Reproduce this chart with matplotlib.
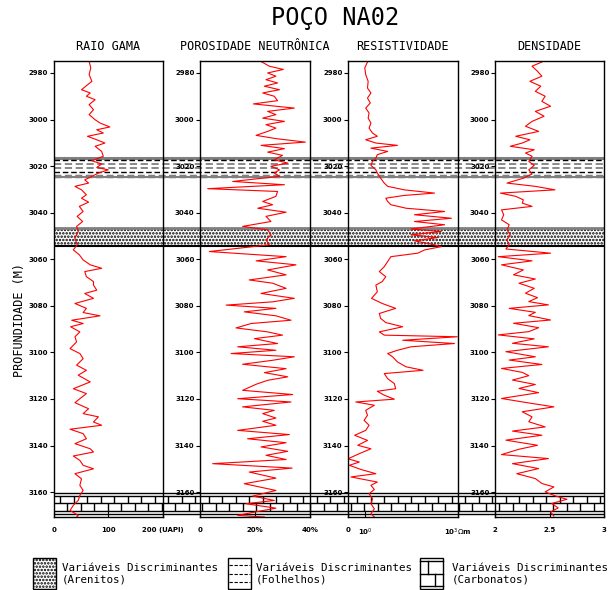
import numpy as np
import matplotlib
matplotlib.use("Agg")
import matplotlib.pyplot as plt
from matplotlib.patches import Rectangle
from matplotlib.ticker import NullLocator

# ---------------- data ----------------
gr_depth = [
    2975.0, 2977.8, 2980.7, 2983.6, 2987.2, 2988.6, 2990.0, 2991.5, 2993.6, 2995.8,
    2997.9, 3000.1, 3001.5, 3003.2, 3004.4, 3005.8, 3007.2, 3008.7, 3010.1, 3011.5,
    3013.7, 3015.8, 3017.7, 3019.1, 3020.6, 3021.6, 3023.0, 3024.4, 3025.9, 3027.3,
    3028.7, 3030.2, 3032.3, 3033.8, 3035.5, 3037.3, 3039.5, 3041.6, 3043.8, 3045.9,
    3048.1, 3051.0, 3053.8, 3056.0, 3058.1, 3060.3, 3062.4, 3063.9, 3065.3, 3067.5,
    3069.6, 3071.1, 3073.3, 3074.7, 3076.8, 3079.0, 3081.1, 3082.9, 3084.3, 3086.2,
    3087.6, 3089.0, 3091.2, 3093.3, 3095.5, 3098.4, 3100.5, 3102.7, 3105.5, 3107.7,
    3109.8, 3112.7, 3115.6, 3117.7, 3119.9, 3121.6, 3124.2, 3126.3, 3127.7, 3129.9,
    3131.3, 3133.0, 3134.9, 3137.1, 3139.2, 3141.4, 3142.8, 3144.5, 3146.4, 3148.5,
    3150.0, 3152.1, 3154.3, 3157.1, 3159.3, 3161.4, 3163.6, 3165.7, 3167.9, 3170.0,
    3170.7]
gr_api = [
    65, 68, 65, 70, 51, 67, 60, 76, 65, 73,
    65, 76, 85, 103, 79, 91, 62, 79, 94, 76,
    88, 91, 70, 88, 79, 100, 82, 70, 57, 64,
    39, 51, 60, 51, 64, 47, 54, 43, 53, 42,
    45, 39, 43, 36, 47, 54, 67, 88, 57, 60,
    73, 73, 79, 57, 73, 39, 60, 54, 85, 33,
    54, 31, 48, 39, 42, 30, 48, 54, 42, 60,
    45, 67, 36, 60, 48, 39, 64, 54, 82, 73,
    88, 30, 54, 60, 39, 67, 73, 36, 48, 54,
    73, 39, 51, 48, 54, 48, 45, 36, 30, 45,
    42]

por_depth = [
    2975.1, 2977.1, 2978.5, 2980.0, 2981.4, 2982.9, 2984.3, 2985.7, 2987.2, 2988.6,
    2990.0, 2991.9, 2993.3, 2995.1, 2996.5, 2997.9, 2999.4, 3000.8, 3002.2, 3003.7,
    3005.1, 3006.8, 3008.2, 3009.7, 3011.1, 3012.5, 3014.0, 3015.4, 3017.3, 3018.7,
    3020.1, 3021.6, 3023.0, 3024.4, 3026.6, 3028.0, 3029.7, 3030.9, 3033.0, 3035.2,
    3036.6, 3038.1, 3039.8, 3041.6, 3043.8, 3045.9, 3047.4, 3049.5, 3051.7, 3053.8,
    3056.7, 3058.9, 3060.7, 3062.4, 3064.6, 3066.7, 3068.9, 3070.3, 3072.5, 3074.7,
    3076.8, 3078.3, 3079.7, 3081.1, 3082.6, 3084.3, 3086.2, 3087.6, 3089.5, 3091.2,
    3092.6, 3094.1, 3096.2, 3097.6, 3099.1, 3100.5, 3101.9, 3103.4, 3105.1, 3107.0,
    3108.7, 3110.5, 3112.0, 3113.7, 3116.3, 3118.1, 3119.9, 3121.3, 3123.4, 3124.9,
    3126.3, 3128.2, 3129.6, 3131.3, 3133.5, 3135.3, 3137.1, 3138.8, 3140.6, 3142.5,
    3144.2, 3146.0, 3147.8, 3149.7, 3151.4, 3154.0, 3156.4, 3159.3, 3161.7, 3163.6,
    3165.0, 3166.9, 3168.6, 3170.0, 3170.7]
por_pct = [
    22.2, 25.2, 30.3, 24.6, 27.6, 24.0, 28.2, 23.4, 28.9, 22.8,
    27.0, 28.2, 19.4, 34.3, 24.6, 27.6, 22.8, 30.7, 24.0, 27.6,
    24.6, 20.4, 27.6, 38.3, 22.2, 30.7, 24.6, 30.0, 27.0, 31.9,
    25.8, 28.9, 27.0, 28.9, 11.9, 30.7, 2.8, 28.2, 27.6, 22.8,
    26.4, 21.0, 31.3, 24.0, 25.8, 15.5, 24.6, 25.8, 24.0, 25.2,
    3.4, 31.3, 20.4, 34.9, 24.6, 31.3, 17.9, 26.4, 31.3, 22.2,
    34.3, 26.4, 9.5, 27.6, 16.1, 27.6, 33.1, 18.6, 13.1, 24.6,
    30.0, 19.8, 28.2, 13.7, 27.6, 11.3, 34.3, 26.4, 15.5, 31.3,
    23.4, 31.9, 24.6, 20.4, 15.5, 33.7, 13.7, 33.1, 15.5, 27.0,
    22.8, 27.6, 22.8, 27.6, 13.7, 32.5, 17.3, 31.3, 22.2, 31.9,
    24.0, 31.3, 4.6, 33.5, 17.9, 27.6, 16.1, 27.6, 19.2, 27.0,
    16.7, 27.6, 19.8, 13.7, 23.4]

res_depth = [
    2975.3, 2977.8, 2980.7, 2983.6, 2986.5, 2988.6, 2990.8, 2992.9, 2995.1, 2997.2,
    2999.4, 3001.5, 3003.7, 3005.8, 3007.2, 3008.7, 3010.1, 3011.1, 3012.3, 3013.7,
    3015.1, 3016.6, 3018.0, 3019.7, 3021.6, 3023.0, 3025.2, 3027.3, 3028.7, 3030.2,
    3031.6, 3032.6, 3033.8, 3035.2, 3036.6, 3038.1, 3039.5, 3040.9, 3042.4, 3043.8,
    3045.2, 3047.0, 3048.1, 3049.5, 3050.7, 3052.1, 3053.5, 3054.6, 3056.0, 3057.4,
    3058.9, 3061.0, 3063.2, 3065.3, 3067.5, 3069.6, 3071.1, 3074.0, 3076.8, 3079.0,
    3081.1, 3083.3, 3085.4, 3087.2, 3089.0, 3091.2, 3092.6, 3093.3, 3094.8, 3096.2,
    3097.6, 3099.1, 3100.5, 3101.9, 3104.1, 3106.2, 3107.7, 3109.1, 3111.3, 3113.4,
    3115.6, 3116.7, 3118.4, 3120.1, 3121.3, 3122.7, 3124.9, 3127.0, 3129.2, 3131.3,
    3133.5, 3135.6, 3137.8, 3139.9, 3141.4, 3143.5, 3145.7, 3147.1, 3148.5, 3150.3,
    3152.1, 3153.5, 3155.7, 3157.1, 3158.9, 3160.7, 3162.9, 3165.0, 3167.2, 3169.3,
    3170.7]
res_ohmm = [
    1.2, 0.98, 1.05, 1.26, 1.2, 1.55, 1.2, 1.48, 1.05, 1.35,
    1.26, 1.55, 1.35, 1.74, 2.5, 1.05, 2.24, 11.2, 1.55, 5.4,
    2.5, 2.24, 1.74, 1.55, 2.24, 2.5, 3.2, 4.2, 5.4, 18.6,
    178, 18.6, 4.7, 5.4, 6.9, 21.4, 380, 40, 630, 40,
    380, 31, 295, 31, 229, 40, 138, 295, 85, 51,
    6.9, 5.4, 4.2, 2.9, 4.7, 3.6, 2.24, 2.5, 1.62, 3.6,
    9.8, 2.9, 3.2, 4.7, 16.6, 2.9, 4.2, 980, 16.6, 790,
    31, 11.2, 5.4, 7.8, 11.2, 21.4, 76, 4.2, 5.4, 8.9,
    9.8, 2.5, 4.2, 8.9, 0.5, 2.0, 1.05, 1.2, 0.93, 1.35,
    1.05, 0.46, 1.2, 0.58, 1.55, 0.65, 0.28, 0.65, 0.31, 0.74,
    2.24, 0.35, 2.5, 1.55, 2.0, 1.35, 1.74, 1.55, 2.0, 1.55,
    2.0]

den_depth = [
    2975.3, 2977.1, 2979.3, 2981.4, 2983.6, 2985.7, 2987.9, 2990.0, 2992.2, 2994.3,
    2996.5, 2998.6, 3000.8, 3002.9, 3005.1, 3007.2, 3008.7, 3010.1, 3011.5, 3013.0,
    3014.4, 3015.8, 3018.0, 3019.7, 3021.6, 3023.4, 3025.2, 3027.3, 3028.7, 3030.2,
    3031.6, 3033.0, 3034.5, 3035.9, 3037.3, 3038.8, 3040.9, 3043.1, 3045.2, 3047.4,
    3049.5, 3051.7, 3053.8, 3055.6, 3057.4, 3058.9, 3060.7, 3062.4, 3064.6, 3066.7,
    3068.5, 3070.3, 3072.5, 3074.6, 3076.5, 3078.2, 3079.6, 3081.1, 3082.8, 3084.2,
    3086.1, 3087.5, 3089.4, 3091.1, 3092.5, 3094.2, 3096.1, 3097.6, 3099.7, 3101.9,
    3103.3, 3105.2, 3106.9, 3108.6, 3110.0, 3111.9, 3113.8, 3115.5, 3117.3, 3119.8,
    3121.5, 3123.4, 3125.5, 3127.7, 3129.8, 3132.0, 3133.8, 3135.6, 3137.7, 3139.9,
    3141.6, 3143.9, 3145.6, 3147.8, 3149.9, 3152.1, 3154.2, 3156.3, 3157.8, 3159.9,
    3161.6, 3163.1, 3164.9, 3166.8, 3168.5, 3170.3]
den_gcc = [
    2.43, 2.34, 2.39, 2.43, 2.32, 2.42, 2.37, 2.46, 2.43, 2.51,
    2.37, 2.45, 2.34, 2.28, 2.40, 2.19, 2.32, 2.25, 2.14, 2.36,
    2.28, 2.34, 2.31, 2.36, 2.31, 2.34, 2.26, 2.11, 2.37, 2.55,
    2.05, 2.19, 2.26, 2.25, 2.34, 2.06, 2.08, 2.06, 2.13, 2.11,
    2.14, 2.11, 2.13, 2.10, 2.51, 2.03, 2.34, 2.06, 2.26, 2.17,
    2.37, 2.22, 2.36, 2.28, 2.39, 2.31, 2.49, 2.13, 2.37, 2.31,
    2.51, 2.17, 2.40, 2.31, 2.03, 2.36, 2.16, 2.49, 2.10, 2.37,
    2.13, 2.43, 2.06, 2.25, 2.31, 2.16, 2.37, 2.22, 2.40, 2.06,
    2.28, 2.54, 2.25, 2.34, 2.31, 2.46, 2.16, 2.43, 2.10, 2.39,
    2.22, 2.06, 2.49, 2.16, 2.40, 2.20, 2.37, 2.43, 2.54, 2.46,
    2.55, 2.66, 2.52, 2.58, 2.51, 2.54]

band_top = [3016.5, 3046.8, 3160.6]
band_bottom = [3024.9, 3054.4, 3169.2]
band_kind = ["Folhelhos", "Arenitos", "Carbonatos"]

legend_kinds = ["Arenitos", "Folhelhos", "Carbonatos"]
legend_text = "Variáveis Discriminantes"

panel_titles = ["RAIO GAMA", "POROSIDADE NEUTRÔNICA", "RESISTIVIDADE", "DENSIDADE"]
depth_ticks = list(range(2980, 3161, 20))
depth_lim = (3170.7, 2975.0)

gr_ticks, gr_labels = [0, 100, 200], ["0", "100", "200 (UAPI)"]
por_ticks, por_labels = [0, 20, 40], ["0", "20%", "40%"]
res_ticks, res_labels = [0.28, 1, 1000], ["0", r"10$^0$", r"10$^3\Omega$m"]
den_ticks, den_labels = [2, 2.5, 3], ["2", "2.5", "3"]

# ---------------- layout ----------------
W, H = 613, 590
fig = plt.figure(figsize=(W / 100, H / 100), dpi=100)
plt.rcParams["hatch.linewidth"] = 1.2

def fx(px):
    return px / W

def fy(py):
    return 1 - py / H

top_px, bot_px = 61.3, 517.0
panels_px = [(53.7, 162.7), (200, 310), (348, 457.6), (495, 604)]
MONO = "DejaVu Sans Mono"
STIPPLE = "....."

# band overlay (beneath panels)
bx0, bx1 = panels_px[0][0], panels_px[-1][1]
axb = fig.add_axes([fx(bx0), fy(bot_px), (bx1 - bx0) / W, (bot_px - top_px) / H], zorder=0)
axb.set_xlim(0, 1)
axb.set_ylim(*depth_lim)
axb.axis("off")

for t, b, kind in zip(band_top, band_bottom, band_kind):
    h = b - t
    if kind == "Folhelhos":
        axb.add_patch(Rectangle((0, t), 1, h, facecolor="white", edgecolor="none"))
        axb.plot([0, 1], [t, t], color="gray", lw=2.2, solid_capstyle="butt")
        axb.plot([0, 1], [t + 0.12 * h] * 2, color="black", lw=1, ls=(0, (4, 2)))
        axb.plot([0, 1], [t + 0.33 * h] * 2, color="gray", lw=1.3, ls=(0, (4, 2)))
        axb.plot([0, 1], [t + 0.52 * h] * 2, color="gray", lw=1.3, ls=(0, (4, 2)))
        axb.plot([0, 1], [t + 0.72 * h] * 2, color="black", lw=1, ls=(0, (4, 2)))
        axb.plot([0, 1], [t + 0.90 * h] * 2, color="gray", lw=2.5, ls=(0, (2, 1)))
        axb.plot([0, 1], [b, b], color="gray", lw=1.5)
    elif kind == "Arenitos":
        axb.add_patch(Rectangle((0, t), 1, h, facecolor="white", edgecolor="black",
                                hatch=STIPPLE, lw=0))
        axb.plot([0, 1], [t, t], color="gray", lw=2)
        axb.plot([0, 1], [b, b], color="black", lw=1.5)
    else:
        axb.add_patch(Rectangle((0, t), 1, h, facecolor="white", edgecolor="none"))
        for f in [0.0, 0.12, 0.5, 0.88, 1.0]:
            axb.plot([0, 1], [t + f * h] * 2, color="black", lw=1)
        s = 13.5 / (bx1 - bx0)
        axb.vlines(np.arange(s / 2, 1, s), t + 0.12 * h, t + 0.5 * h, color="black", lw=1)
        axb.vlines(np.arange(s, 1, s), t + 0.5 * h, t + 0.88 * h, color="black", lw=1)

curves = [
    (gr_api, gr_depth, (0, 200), gr_ticks, gr_labels, False),
    (por_pct, por_depth, (0, 40), por_ticks, por_labels, False),
    (res_ohmm, res_depth, (0.28, 1000), res_ticks, res_labels, True),
    (den_gcc, den_depth, (2, 3), den_ticks, den_labels, False),
]

for (x0, x1), title, (vals, dep, xl, xt, xlab, islog) in zip(panels_px, panel_titles, curves):
    ax = fig.add_axes([fx(x0), fy(bot_px), (x1 - x0) / W, (bot_px - top_px) / H], zorder=1)
    ax.set_facecolor("none")
    if islog:
        ax.set_xscale("log")
    ax.plot(vals, dep, color="red", lw=0.8)
    ax.set_xlim(*xl)
    ax.set_ylim(*depth_lim)
    ax.set_yticks(depth_ticks)
    ax.set_yticklabels([str(d) for d in depth_ticks], fontsize=5, fontweight="bold")
    ax.set_xticks(xt)
    ax.set_xticklabels(xlab, fontsize=5, fontweight="bold")
    ax.xaxis.set_minor_locator(NullLocator())
    ax.yaxis.set_minor_locator(NullLocator())
    ax.tick_params(axis="y", direction="out", length=3, width=0.8, pad=1)
    ax.tick_params(axis="x", direction="in", length=4, width=0.8, pad=7)
    for sp in ax.spines.values():
        sp.set_linewidth(1.0)
    fig.text(fx((x0 + x1) / 2), fy(47), title, ha="center", va="center",
             fontsize=8.5, family=MONO)

fig.text(fx(335), fy(18), "POÇO NA02", ha="center", va="center", fontsize=17, family=MONO)
fig.text(fx(20), fy(320), "PROFUNDIDADE (M)", ha="center", va="center", rotation=90,
         fontsize=8.5, family=MONO)

# ---------------- legend ----------------
axl = fig.add_axes([0, 0, 1, 1], zorder=2)
axl.set_xlim(0, W)
axl.set_ylim(H, 0)
axl.axis("off")
icon_x = {"Arenitos": 33, "Folhelhos": 228, "Carbonatos": 420}
text_x = {"Arenitos": 62, "Folhelhos": 256, "Carbonatos": 452}
iy, iw, ih = 558, 23, 31
for kind in legend_kinds:
    x = icon_x[kind]
    if kind == "Arenitos":
        axl.add_patch(Rectangle((x, iy), iw, ih, facecolor="white", edgecolor="black",
                                hatch=STIPPLE, lw=1))
    elif kind == "Folhelhos":
        axl.add_patch(Rectangle((x, iy), iw, ih, facecolor="white", edgecolor="black", lw=1))
        for yy in [iy + 7, iy + 15.5, iy + 24]:
            axl.plot([x + 1, x + iw - 1], [yy, yy], color="black", lw=0.8, ls=(0, (3, 1.5)))
    else:
        axl.add_patch(Rectangle((x, iy), iw, ih, facecolor="white", edgecolor="black", lw=1))
        axl.plot([x, x + iw], [iy + 3, iy + 3], color="black", lw=1)
        axl.plot([x, x + iw], [iy + ih / 2, iy + ih / 2], color="black", lw=1)
        axl.plot([x, x + iw], [iy + ih - 3, iy + ih - 3], color="black", lw=1)
        axl.plot([x + 8, x + 8], [iy + 3, iy + ih / 2], color="black", lw=1)
        axl.plot([x + 15, x + 15], [iy + ih / 2, iy + ih - 3], color="black", lw=1)
    axl.text(text_x[kind], iy + ih / 2, legend_text + "\n(" + kind + ")", ha="left",
             va="center", fontsize=7.85, family=MONO, linespacing=1.2)

fig.savefig("out.png", dpi=100)
